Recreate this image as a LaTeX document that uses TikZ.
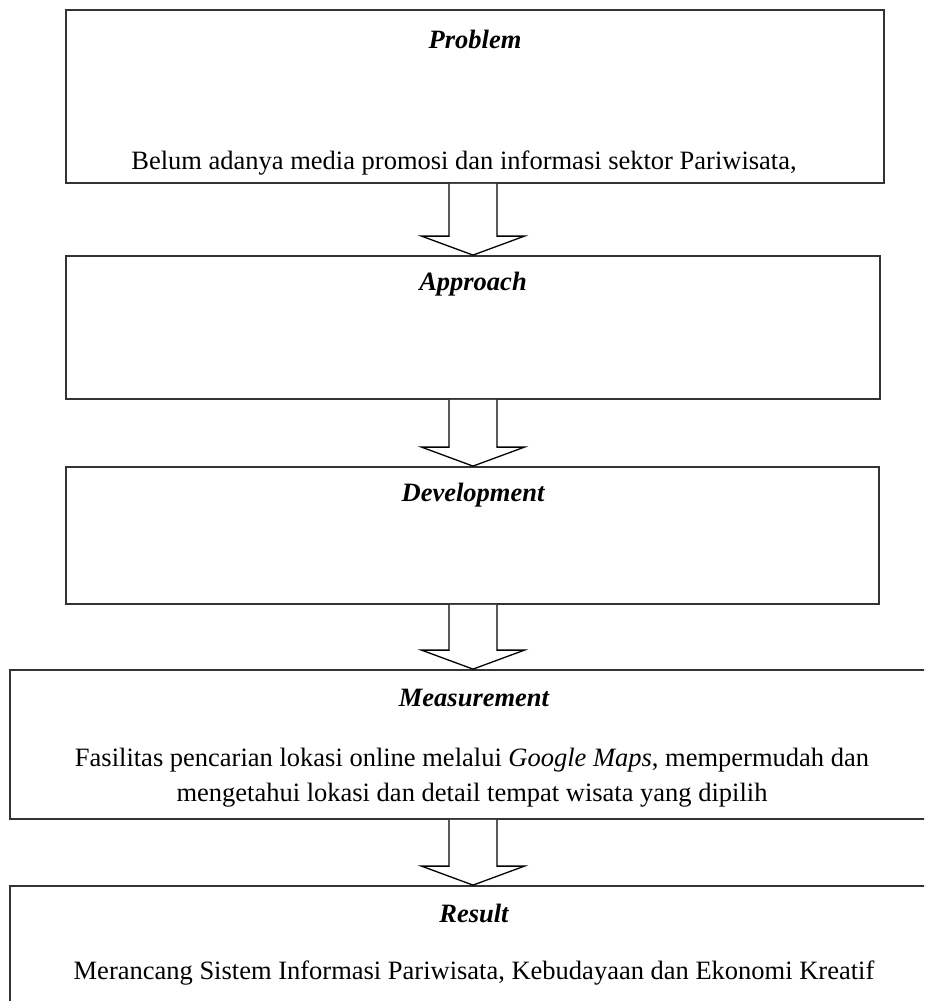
\documentclass[tikz,border=0pt]{standalone}
\usepackage{fontspec}
\setmainfont{Liberation Serif}
\usetikzlibrary{calc}
\begin{document}
\begin{tikzpicture}[x=1pt,y=-1pt,
  panel/.style={draw=black!80,line width=1.8pt,fill=white,inner sep=0pt},
  heading/.style={font=\fontsize{26.5}{30}\selectfont\bfseries\itshape,inner sep=0pt,anchor=center},
  body/.style={font=\fontsize{26.5}{35}\selectfont,inner sep=0pt,anchor=center,align=center},
  blockarrow/.style={draw=black,line width=1.3pt,fill=white,line join=miter}]
\useasboundingbox (0,0) rectangle (924,1001);
\clip (0,0) rectangle (924,1001);
\fill[white] (0,0) rectangle (924,1001);

% stages
\node[panel,minimum width=818pt,minimum height=173pt] (p1) at (475,96.5) {};
\node[panel,minimum width=814pt,minimum height=143pt] (p2) at (473,327.5) {};
\node[panel,minimum width=813pt,minimum height=137pt] (p3) at (472.5,535.5) {};
\node[panel,minimum width=926pt,minimum height=149pt] (p4) at (473,744.5) {};
\node[panel,minimum width=926pt,minimum height=160pt] (p5) at (473,966) {};

% hollow arrows between stages
\foreach \a/\b in {p1/p2,p2/p3,p3/p4,p4/p5}{
  \coordinate (s) at (473,0 |- \a.south);
  \coordinate (e) at (473,0 |- \b.north);
  \draw[blockarrow] ($(s)+(-24,0)$) -- ($(e)+(-24,-19)$) -- ($(e)+(-51.5,-19)$)
     -- (e) -- ($(e)+(51.5,-19)$) -- ($(e)+(24,-19)$) -- ($(s)+(24,0)$);
}

% texts
\node[heading] (t1) at (475,39) {Problem};
\node[body] (b1) at (464,163) {Belum adanya media promosi dan informasi sektor Pariwisata,};
\node[heading] (t2) at (473,284) {Approach};
\node[heading] (t3) at (473,495) {Development};
\node[heading] (t4) at (474,698) {Measurement};
\node[body] (b4) at (472,778) {Fasilitas pencarian lokasi online melalui \textit{Google Maps}, mempermudah dan\\ mengetahui lokasi dan detail tempat wisata yang dipilih};
\node[heading] (t5) at (474,913) {Result};
\node[body] (b5) at (474,973) {Merancang Sistem Informasi Pariwisata, Kebudayaan dan Ekonomi Kreatif};
\end{tikzpicture}
\end{document}
